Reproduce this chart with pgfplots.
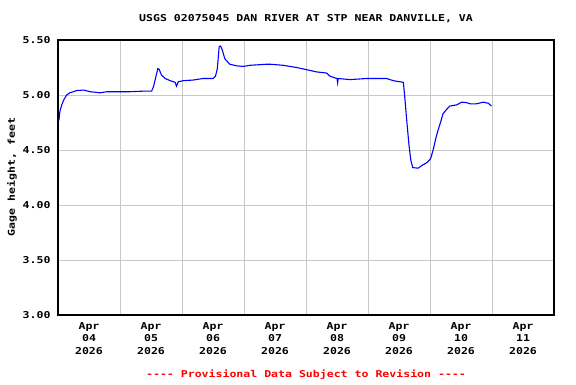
\documentclass[border=0pt]{standalone}
\usepackage{fontspec}
\setmainfont{DejaVu Sans Mono}[FakeStretch=1.22, Ligatures=TeXOff]
\usepackage{pgfplots}
\pgfplotsset{compat=1.18}
\definecolor{gridgray}{RGB}{200,200,200}
\definecolor{usgsblue}{RGB}{0,0,255}
\definecolor{usgsred}{RGB}{255,0,0}
\begin{document}
\begin{tikzpicture}[x=1bp,y=1bp]
\useasboundingbox (0,0) rectangle (576,384);
\begin{axis}[
  at={(58bp,69bp)}, anchor=south west,
  width=496bp, height=275bp, scale only axis,
  xmin=0, xmax=8, ymin=3, ymax=5.5,
  xtick={0.5,1.5,2.5,3.5,4.5,5.5,6.5,7.5},
  xticklabels={{Apr\\04\\2026},{Apr\\05\\2026},{Apr\\06\\2026},{Apr\\07\\2026},{Apr\\08\\2026},{Apr\\09\\2026},{Apr\\10\\2026},{Apr\\11\\2026}},
  minor xtick={1,2,3,4,5,6,7},
  xmajorgrids=false, xminorgrids=true,
  ytick={3,3.5,4,4.5,5,5.5},
  ymajorgrids=true,
  grid style={gridgray, line width=0.9bp},
  minor grid style={gridgray, line width=0.9bp},
  major tick length=0pt, minor tick length=0pt,
  axis line style={black, line width=1.1bp},
  /pgf/number format/assume math mode=true,
  yticklabel style={/pgf/number format/.cd, fixed, fixed zerofill, precision=2, /tikz/.cd, font=\fontsize{9.5}{12}\bfseries\selectfont, xshift=-4bp},
  xticklabel style={align=center, font=\fontsize{9.5}{12.5}\bfseries\selectfont, yshift=-4bp},
  clip=true,
]
\addplot[usgsblue, line width=1.1bp] coordinates {
(0.016,4.77) (0.03,4.85) (0.06,4.91) (0.097,4.96) (0.14,5.00) (0.19,5.02)
(0.25,5.03) (0.30,5.04) (0.41,5.045) (0.52,5.03) (0.68,5.02) (0.79,5.03)
(0.95,5.03) (1.16,5.03) (1.38,5.035) (1.51,5.035) (1.54,5.075) (1.58,5.17)
(1.61,5.24) (1.63,5.235) (1.67,5.18) (1.73,5.15) (1.81,5.13) (1.89,5.115)
(1.91,5.08) (1.94,5.12) (2.02,5.13) (2.18,5.136) (2.34,5.15) (2.50,5.15)
(2.54,5.17) (2.57,5.24) (2.60,5.44) (2.62,5.445) (2.65,5.41) (2.69,5.33)
(2.77,5.28) (2.88,5.265) (2.99,5.26) (3.10,5.27) (3.37,5.28) (3.42,5.28)
(3.63,5.27) (3.85,5.25) (4.01,5.23) (4.17,5.21) (4.33,5.20) (4.39,5.17)
(4.50,5.15) (4.51,5.11) (4.52,5.15) (4.71,5.14) (4.98,5.15) (5.30,5.15)
(5.41,5.13) (5.57,5.115) (5.59,5.00) (5.62,4.80) (5.66,4.55) (5.69,4.41)
(5.72,4.34) (5.81,4.335) (5.87,4.36) (5.95,4.385) (6.01,4.42) (6.05,4.50)
(6.10,4.62) (6.13,4.68) (6.18,4.77) (6.21,4.83) (6.27,4.87) (6.32,4.90)
(6.43,4.91) (6.51,4.935) (6.59,4.93) (6.65,4.92) (6.75,4.92) (6.86,4.935)
(6.94,4.925) (6.99,4.90)
};
\end{axis}
\node[font=\fontsize{9.5}{12}\bfseries\selectfont] at (306,365) {USGS 02075045 DAN RIVER AT STP NEAR DANVILLE, VA};
\node[font=\fontsize{9.5}{12}\bfseries\selectfont, rotate=90] at (12,207) {Gage height, feet};
\node[font=\fontsize{9.5}{12}\bfseries\selectfont, text=usgsred] at (306,9) {---- Provisional Data Subject to Revision ----};
\end{tikzpicture}
\end{document}
